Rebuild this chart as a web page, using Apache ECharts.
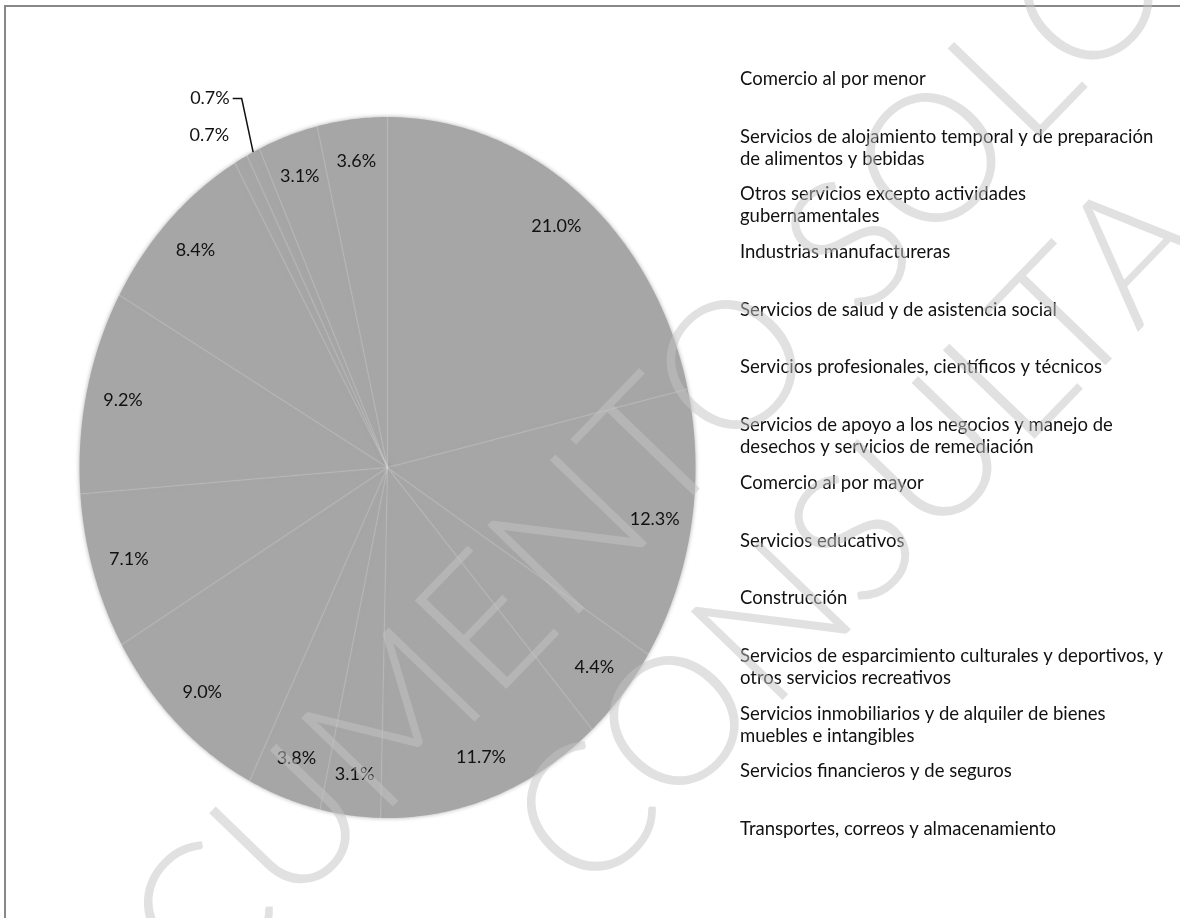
<!DOCTYPE html>
<html>
<head>
<meta charset="utf-8">
<title>Distribución por sector</title>
<script src="https://cdn.jsdelivr.net/npm/echarts@6/dist/echarts.min.js"></script>
<style>
  html, body { margin: 0; padding: 0; background: #fff; }
  #chart { width: 1180px; height: 918px; }
</style>
</head>
<body>
<div id="chart"></div>
<script>
// sectores, en el orden de la leyenda (y del pastel, horario desde las 12)
const categories = [
  'Comercio al por menor',
  'Servicios de alojamiento temporal y de preparación\nde alimentos y bebidas',
  'Otros servicios excepto actividades\ngubernamentales',
  'Industrias manufactureras',
  'Servicios de salud y de asistencia social',
  'Servicios profesionales, científicos y técnicos',
  'Servicios de apoyo a los negocios y manejo de\ndesechos y servicios de remediación',
  'Comercio al por mayor',
  'Servicios educativos',
  'Construcción',
  'Servicios de esparcimiento culturales y deportivos, y\notros servicios recreativos',
  'Servicios inmobiliarios y de alquiler de bienes\nmuebles e intangibles',
  'Servicios financieros y de seguros',
  'Transportes, correos y almacenamiento'
]
// porcentajes que muestran las etiquetas
const values = [21.0, 12.3, 4.4, 11.7, 3.1, 3.8, 9.0, 7.1, 9.2, 8.4, 0.7, 0.7, 3.1, 3.6]
// marca de agua
const watermarkLines = ['DOCUMENTO SOLO', 'CONSULTA']

const total = values.reduce((s, v) => s + v, 0)
const startAt = []
values.reduce((acc, v, i) => { startAt[i] = acc; return acc + v }, 0)
// sectores chicos seguidos: su etiqueta va afuera, escalonada
const smallRank = values.map(v => (v < 1 ? 0 : -1))
for (let i = 1; i < values.length; i++) {
  if (smallRank[i] >= 0 && smallRank[i - 1] >= 0) smallRank[i] = smallRank[i - 1] + 1
}

const labelFont = { fontSize: 18, fontFamily: 'Lato', fill: '#111' }

function renderSlice (params, api) {
  const i = params.dataIndex
  const w = api.getWidth()
  const h = api.getHeight()
  // el pastel de la imagen está estirado en vertical (elipse)
  const cx = w * 0.3284
  const cy = h * 0.5093
  const rx = w * 0.261
  const ry = h * 0.3818
  const a0 = startAt[i] / total * Math.PI * 2
  const a1 = (startAt[i] + api.value(0)) / total * Math.PI * 2
  const pt = (a, r) => [cx + rx * r * Math.sin(a), cy - ry * r * Math.cos(a)]

  const points = [[cx, cy]]
  const steps = Math.max(2, Math.ceil((a1 - a0) / 0.01))
  for (let k = 0; k <= steps; k++) points.push(pt(a0 + (a1 - a0) * k / steps, 1))

  const children = [
    { type: 'polygon', shape: { points },
      style: { fill: '#a6a6a6', shadowBlur: 4, shadowColor: 'rgba(166,166,166,0.9)' } },
    // separador tenue entre sectores
    { type: 'line', z2: 2, shape: { x1: cx, y1: cy, x2: pt(a0, 1)[0], y2: pt(a0, 1)[1] },
      style: { stroke: 'rgba(255,255,255,0.12)', lineWidth: 1.5 } }
  ]

  const text = api.value(0).toFixed(1) + '%'
  const mid = (a0 + a1) / 2
  const rank = smallRank[i]
  if (rank < 0) {
    const p = pt(mid, 0.88)
    children.push({ type: 'text', x: p[0], y: p[1], z2: 10,
      style: Object.assign({ text, align: 'center', textAlign: 'center', verticalAlign: 'middle', textVerticalAlign: 'middle' }, labelFont) })
  } else {
    const side = Math.sin(mid) < 0 ? 'right' : 'left'
    const dir = side === 'right' ? -1 : 1
    let p = pt(mid, 1.08)
    if (rank > 0) {
      const e = pt(mid, 1)
      const r = pt(mid, 1.08 + 0.09 * rank)
      const elbow = [(e[0] + r[0]) / 2, r[1]]
      const end = [elbow[0] + dir * 9, r[1]]
      children.push({ type: 'polyline', z2: 10, shape: { points: [e, elbow, end] },
        style: { stroke: '#111', lineWidth: 1.5, fill: null } })
      p = [end[0] + dir * 3, end[1]]
    }
    children.push({ type: 'text', x: p[0], y: p[1], z2: 10,
      style: Object.assign({ text, align: side, textAlign: side, verticalAlign: 'middle', textVerticalAlign: 'middle' }, labelFont) })
  }
  return { type: 'group', children }
}

// leyenda sin marcadores, como en la imagen
const legendTexts = categories.map((name, i) => ({
  type: 'text',
  x: 740,
  y: 68 + i * 57.7,
  z: 5,
  style: { text: name, fontSize: 18.5, fontFamily: 'Lato', fill: '#111', lineHeight: 22,
    verticalAlign: 'top', textVerticalAlign: 'top' }
}))

// marca de agua diagonal
const watermarkPos = [[555, 555], [861, 535]]
const watermark = watermarkLines.map((t, i) => ({
  type: 'text',
  x: watermarkPos[i][0],
  y: watermarkPos[i][1],
  rotation: 46 * Math.PI / 180,
  z: 50,
  silent: true,
  style: { text: t, fontSize: 180, fontWeight: 300, fontFamily: 'Lato', fill: 'rgba(195,195,195,0.5)',
    align: 'center', textAlign: 'center', verticalAlign: 'middle', textVerticalAlign: 'middle' }
}))

const option = {
  backgroundColor: '#fff',
  animation: false,
  series: [{
    type: 'custom',
    coordinateSystem: 'none',
    renderItem: renderSlice,
    data: values.map((v, i) => ({ value: v, name: categories[i] }))
  }],
  graphic: [
    { type: 'rect', z: 1, shape: { x: 5, y: 6, width: 1200, height: 940 },
      style: { fill: null, stroke: '#888', lineWidth: 2 } }
  ].concat(legendTexts, watermark)
}

const myChart = echarts.init(document.getElementById('chart'))
myChart.setOption(option)
window.onresize = () => { myChart.resize() }
</script>
</body>
</html>
